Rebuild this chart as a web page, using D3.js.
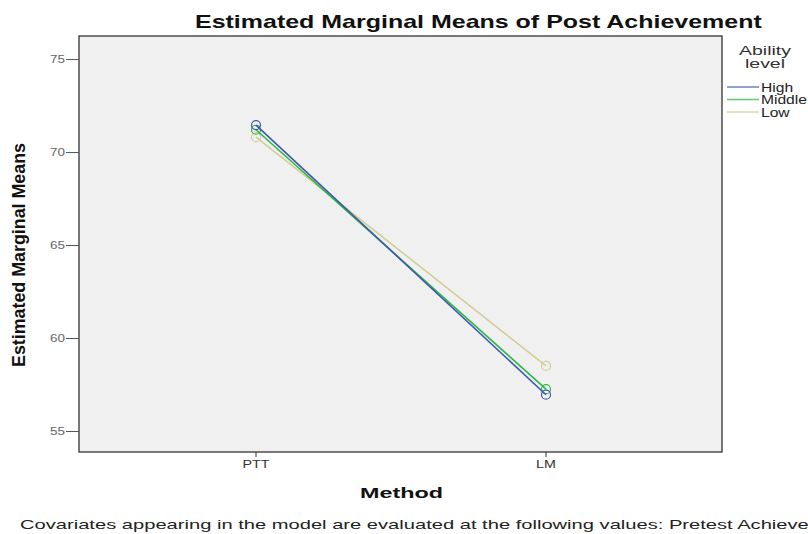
<!DOCTYPE html>
<html><head><meta charset="utf-8">
<script src="https://cdn.jsdelivr.net/npm/d3@7"></script>
<style>body{margin:0;background:#fff;}svg{display:block;font-family:"Liberation Sans",Arial,sans-serif;}</style>
</head><body>
<svg id="c" width="808" height="534"></svg>
<script>
const methods = ["PTT", "LM"];
const levels = ["High", "Middle", "Low"];
const high = [71.45, 56.95];
const middle = [71.2, 57.25];
const low = [70.8, 58.5];
const yTicks = [55, 60, 65, 70, 75];
const colors = ["#3E58AC", "#2EB848", "#D3CE97"];
const seriesData = [high, middle, low];

const svg = d3.select("#c");
const L = 79, R = 722, T = 36, B = 452;
const xp = d3.scalePoint().domain(methods).range([256, 546]);
const y = d3.scaleLinear().domain([53.87, 76.24]).range([B, T]);

// measure natural width of a string
function measure(str, size, weight) {
  const t = svg.append("text").attr("font-size", size).attr("font-weight", weight || "normal").text(str);
  const w = t.node().getComputedTextLength();
  t.remove();
  return w;
}
// horizontally stretched text (the reference image is stretched horizontally)
function stext(x, yy, str, size, weight, anchor, sx, fill) {
  return svg.append("text").attr("transform", `translate(${x},${yy}) scale(${sx},1)`)
    .attr("text-anchor", anchor).attr("font-size", size).attr("font-weight", weight)
    .attr("fill", fill).text(str);
}

svg.append("rect").attr("x", L).attr("y", T).attr("width", R - L).attr("height", B - T)
  .attr("fill", "#F0F0F0").attr("stroke", "#333").attr("stroke-width", 1.3);

// y axis ticks
const ya = svg.append("g").attr("transform", `translate(${L},0)`)
  .call(d3.axisLeft(y).tickValues(yTicks).tickSize(13).tickFormat(""));
ya.select(".domain").remove();
ya.selectAll("line").attr("stroke", "#555");
const tickSx = 15 / measure("75", 11.5, "normal");
yTicks.forEach(v => stext(L - 14, y(v) + 4, String(v), 11.5, "normal", "end", tickSx, "#666"));

// x axis ticks
methods.forEach(m => {
  svg.append("line").attr("x1", xp(m)).attr("x2", xp(m)).attr("y1", B).attr("y2", B + 5).attr("stroke", "#333");
  stext(xp(m), B + 16, m, 11, "normal", "middle", 27 / measure("PTT", 11, "normal"), "#333");
});

// lines and markers
const line = d3.line().x((d, i) => xp(methods[i])).y(d => y(d));
[2, 1, 0].forEach(k => {
  svg.append("path").datum(seriesData[k]).attr("d", line).attr("fill", "none")
    .attr("stroke", colors[k]).attr("stroke-width", 1.6);
  svg.selectAll(null).data(seriesData[k]).enter().append("circle")
    .attr("cx", (d, i) => xp(methods[i])).attr("cy", d => y(d)).attr("r", 4.5)
    .attr("fill", "none").attr("stroke", colors[k]).attr("stroke-width", 1.2);
});

// title
const title = "Estimated Marginal Means of Post Achievement";
stext(195, 28, title, 18, "bold", "start", 567 / measure(title, 18, "bold"), "#111");

// y label (rotated; stretched in screen x)
const yl = "Estimated Marginal Means";
svg.append("text").attr("transform", "translate(25,255) scale(1.35,1) rotate(-90)")
  .attr("text-anchor", "middle").attr("font-size", 13).attr("font-weight", "bold").attr("fill", "#111")
  .attr("textLength", 224).attr("lengthAdjust", "spacingAndGlyphs").text(yl);

// x label
stext(360, 498, "Method", 15, "bold", "start", 83 / measure("Method", 15, "bold"), "#111");

// legend
const legSx = 52 / measure("Ability", 13, "normal");
stext(765, 55, "Ability", 13, "normal", "middle", legSx, "#333");
stext(765, 68, "level", 13, "normal", "middle", legSx, "#333");
levels.forEach((lv, k) => {
  const yy = 87 + k * 12.5;
  svg.append("line").attr("x1", 727).attr("x2", 759).attr("y1", yy).attr("y2", yy)
    .attr("stroke", colors[k]).attr("stroke-width", 1.5).attr("opacity", 0.75);
  stext(761, yy + 4.5, lv, 12, "normal", "start", 46 / measure("Middle", 12, "normal"), "#222");
});

// footnote
const foot = "Covariates appearing in the model are evaluated at the following values: Pretest Achievement";
stext(20, 529, foot, 13, "normal", "start", 280 / measure("Covariates appearing in the mo", 13, "normal"), "#222");
</script>
</body></html>
